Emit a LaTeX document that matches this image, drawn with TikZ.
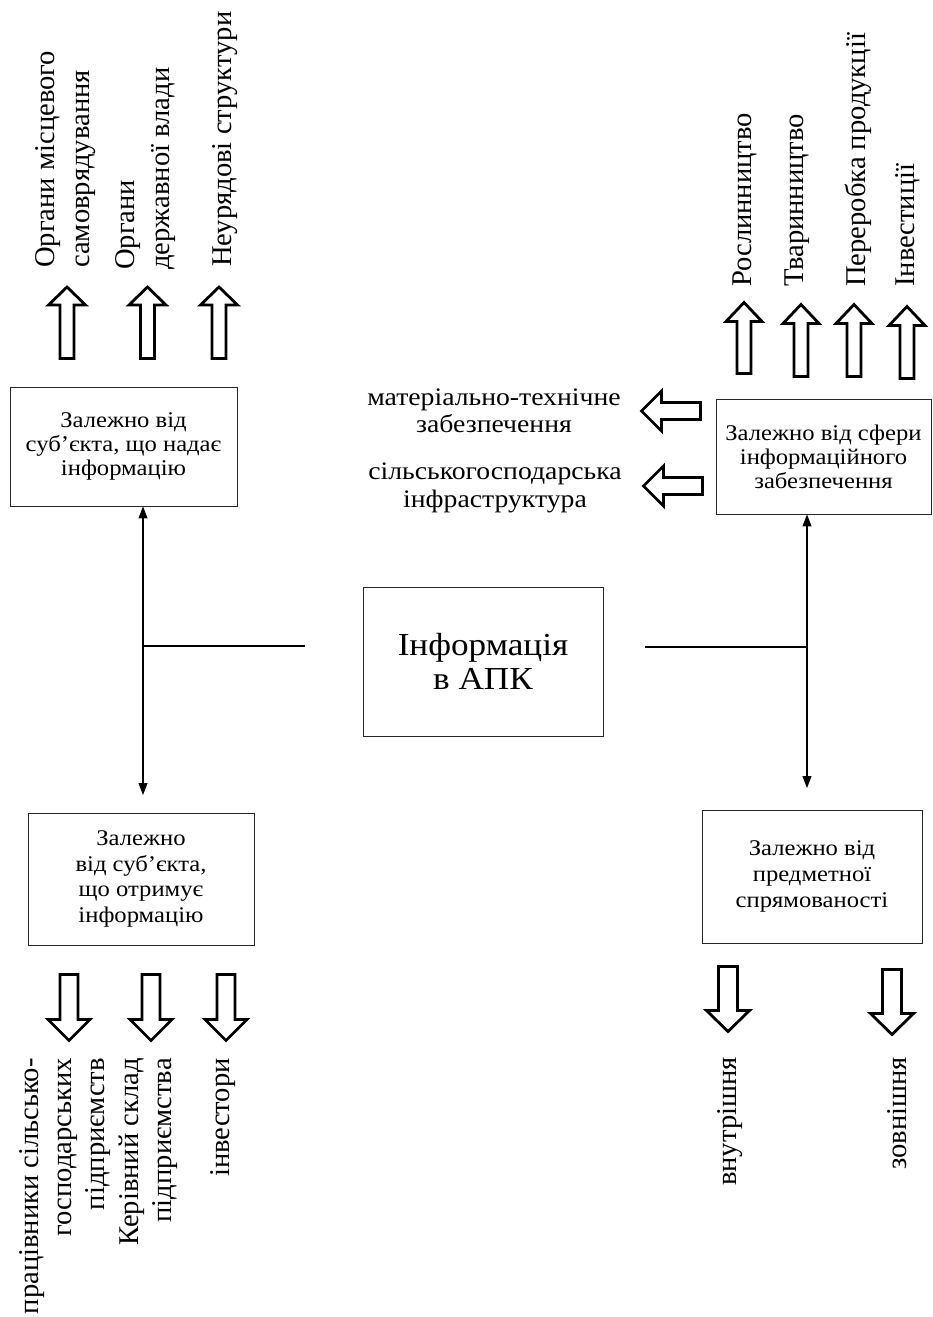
\documentclass[tikz,border=0pt]{standalone}
\usepackage{fontspec}
\setmainfont{Liberation Serif}
\newfontfamily\widefont[FakeStretch=1.1]{Liberation Serif}
\usetikzlibrary{arrows.meta}
% block arrow: x, y (tail centre), angle, length, shaft half width, head half width, head length
\newcommand\blkarrow[7]{%
  \begin{scope}[shift={(#1,#2)},rotate=#3,x=1pt,y=1pt]
    \draw[blk] (0,-#5) -- ({#4-#7},-#5) -- ({#4-#7},-#6) -- (#4,0) -- ({#4-#7},#6) -- ({#4-#7},#5) -- (0,#5) -- cycle;
  \end{scope}}
\tikzset{
  box/.style={draw=black!85, line width=0.9pt, align=center, inner sep=0pt},
  boxtxt/.style={font=\widefont\fontsize{22.4}{24}\selectfont},
  lbl/.style={rotate=90, inner sep=0pt, font=\fontsize{28.6}{35}\selectfont},
  lblb/.style={rotate=90, inner sep=0pt, font=\fontsize{28.6}{33}\selectfont},
  midtxt/.style={inner sep=0pt, align=center, font=\widefont\fontsize{25.2}{27.5}\selectfont},
  blk/.style={draw=black, line width=2.8pt, fill=white, line join=miter},
  conn/.style={line width=1.2pt},
  tipped/.style={-{Triangle[length=12pt,width=9pt]}}
}
\begin{document}
\begin{tikzpicture}[x=1pt,y=-1pt]
\useasboundingbox (0,0) rectangle (932,1317);

% boxes
\node[box, boxtxt, minimum width=227pt, minimum height=119pt] (tl) at (123.5,446.5) {Залежно від\\суб’єкта, що надає\\інформацію};
\node[box, boxtxt, minimum width=215pt, minimum height=115pt] (tr) at (823.5,456.5) {Залежно від сфери\\інформаційного\\забезпечення};
\node[box, font=\widefont\fontsize{32}{33.5}\selectfont, minimum width=240pt, minimum height=149pt] (c) at (483,661.5) {Інформація\\в АПК};
\node[box, font=\widefont\fontsize{22.4}{25.5}\selectfont, minimum width=226pt, minimum height=132pt] (bl) at (141,879) {Залежно\\від суб’єкта,\\що отримує\\інформацію};
\node[box, font=\widefont\fontsize{22.4}{26}\selectfont, minimum width=220pt, minimum height=133pt] (br) at (812,876.5) {Залежно від\\предметної\\спрямованості};

% connectors
\coordinate (lv) at (143,646);
\coordinate (lbot) at (143,795);
\coordinate (lend) at (305,646);
\coordinate (rv) at (807,647);
\coordinate (rbot) at (807,788);
\coordinate (rend) at (645,647);
\draw[conn, tipped] (lv) -- (tl.south -| lv);
\draw[conn, tipped] (lv) -- (lbot);
\draw[conn] (lv) -- (lend);
\draw[conn, tipped] (rv) -- (tr.south -| rv);
\draw[conn, tipped] (rv) -- (rbot);
\draw[conn] (rend) -- (rv);

% top-left labels and arrows
\node[lbl, anchor=west, align=left] (l1) at (65.5,268) {Органи місцевого\\самоврядування};
\node[lbl, anchor=west, align=left] (l2) at (145.5,270) {Органи\\державної влади};
\node[lbl, anchor=west] (l3) at (225,267) {Неурядові структури};
\blkarrow{67}{358.5}{90}{71.5}{7}{18.5}{18}
\blkarrow{147.5}{358.5}{90}{71.5}{7}{18.5}{18}
\blkarrow{219}{358.5}{90}{71.5}{7}{18.5}{18}

% top-right labels and arrows
\node[lbl, anchor=west] (r1) at (745,287) {Рослинництво};
\node[lbl, anchor=west] (r2) at (797,287) {Тваринництво};
\node[lbl, anchor=west] (r3) at (858,287) {Переробка продукції};
\node[lbl, anchor=west] (r4) at (908,287) {Інвестиції};
\blkarrow{744}{373.5}{90}{71}{7}{18}{19}
\blkarrow{801}{376.5}{90}{72}{7}{18}{19}
\blkarrow{854}{376.5}{90}{72}{7}{18}{19}
\blkarrow{907}{378.5}{90}{72}{7}{18}{19}

% middle labels and left arrows
\node[midtxt] (m1) at (494,411) {матеріально-технічне\\забезпечення};
\node[midtxt] (m2) at (495,488) {сільськогосподарська\\інфраструктура};
\blkarrow{700.5}{411}{180}{59}{8.5}{20}{20}
\blkarrow{702.5}{486}{180}{59}{8.5}{20}{20}

% bottom-left arrows and labels
\blkarrow{69}{974.5}{-90}{66}{9}{21}{21}
\blkarrow{151}{974.5}{-90}{66}{9}{21}{21}
\blkarrow{226}{974.5}{-90}{66}{9}{21}{21}
\node[lblb, anchor=east, align=right] (b1) at (65,1058) {працівники сільсько-\\господарських\\підприємств};
\node[lblb, anchor=east, align=right] (b2) at (148.5,1058) {Керівний склад\\підприємства};
\node[lblb, anchor=east] (b3) at (223,1058) {інвестори};

% bottom-right arrows and labels
\blkarrow{728}{966.5}{-90}{65}{9.5}{21.5}{21}
\blkarrow{892}{969.5}{-90}{65}{9.5}{21.5}{21}
\node[lblb, anchor=east] (b4) at (730,1057) {внутрішня};
\node[lblb, anchor=east] (b5) at (897,1057) {зовнішня};
\end{tikzpicture}
\end{document}
